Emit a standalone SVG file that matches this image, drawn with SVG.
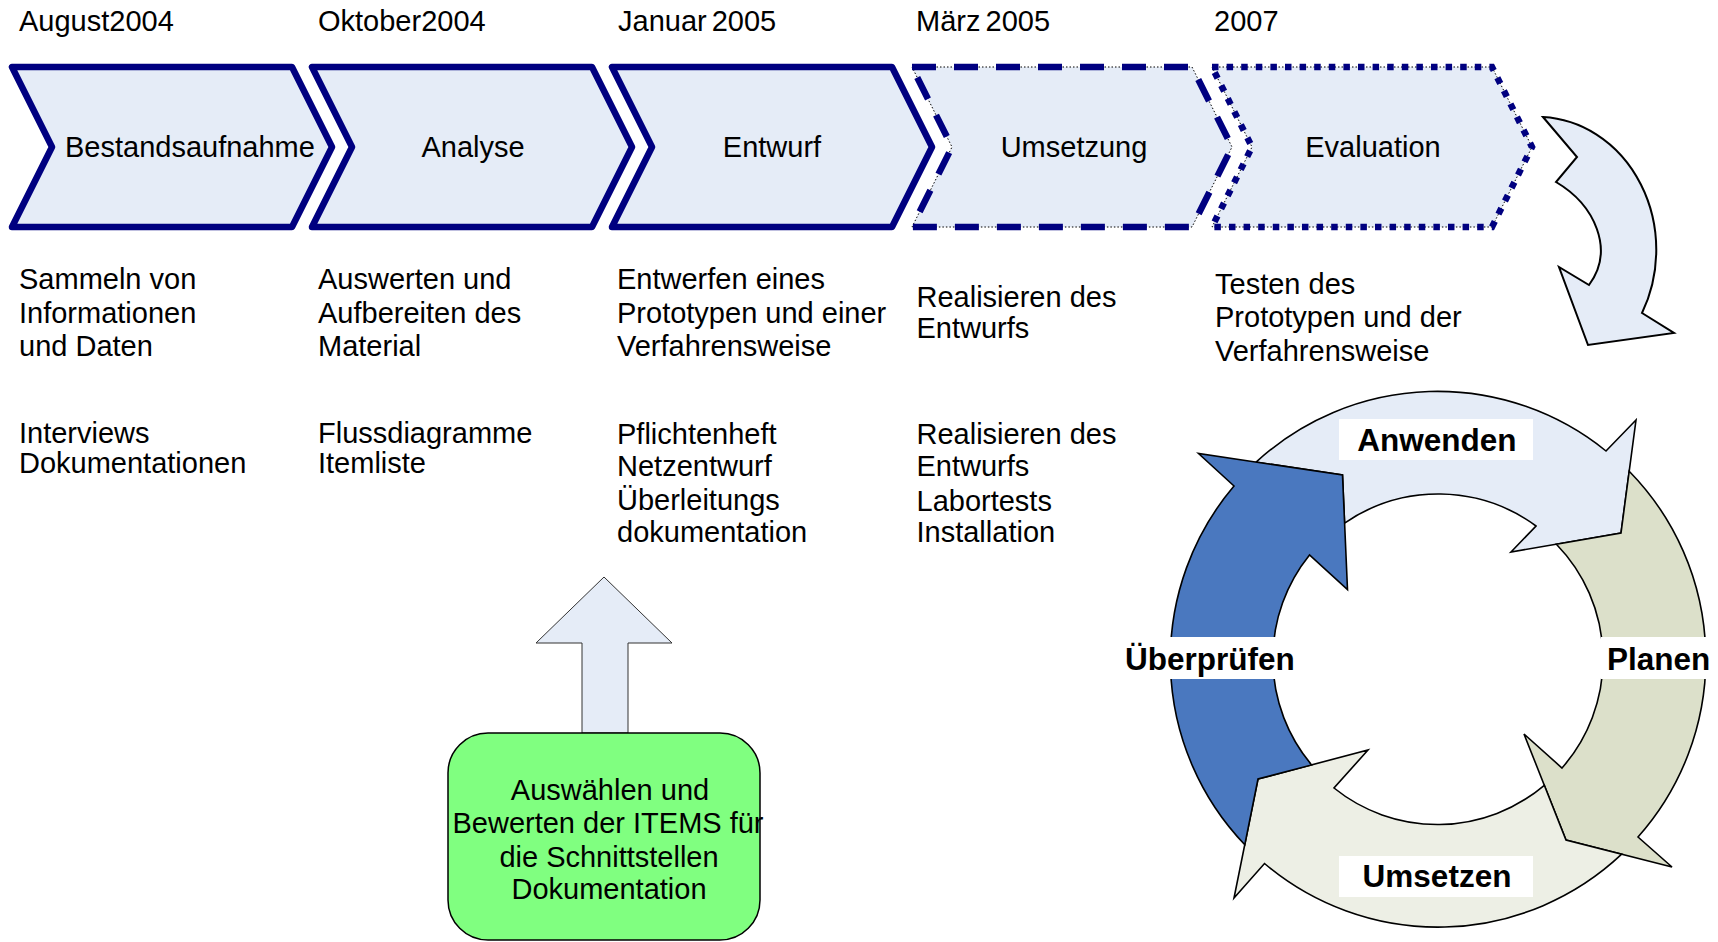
<svg xmlns="http://www.w3.org/2000/svg" width="1718" height="942" viewBox="0 0 1718 942">
  <style>
    text { font-family: "Liberation Sans", Arial, sans-serif; fill: #000; }
    .t { font-size: 29px; }
    .b { font-size: 31.5px; font-weight: bold; }
    .mid { text-anchor: middle; }
    .fill { fill: #E5ECF7; stroke: none; }
    .solid { fill: none; stroke: #000080; stroke-width: 6.5; stroke-linejoin: round; }
    .dash { fill: none; stroke: #000080; stroke-width: 6.5; stroke-dasharray: 24 18; }
    .dots { fill: none; stroke: #000080; stroke-width: 6.5; stroke-dasharray: 6.5 8.1; }
    .hair { fill: none; stroke: #000; stroke-width: 1; stroke-dasharray: 1.5 2; }
    .ring { stroke: #000; stroke-width: 1.6; stroke-linejoin: miter; }
    .tag { fill: #fff; stroke: none; }
  </style>
  <defs>
    <!-- one process step: 320 wide, 160 high, 40 deep notch and point -->
    <path id="chev" d="M0,0 H280 L320,80 L280,160 H0 L40,80 Z"/>
  </defs>

  <rect width="1718" height="942" fill="#fff"/>

  <!-- dates above the steps -->
  <g id="dates" class="t">
    <text class="t" x="19" y="31">August2004</text>
    <text class="t" x="318" y="31">Oktober2004</text>
    <text class="t" x="618" y="31" word-spacing="-3">Januar 2005</text>
    <text class="t" x="916" y="31" word-spacing="-3">März 2005</text>
    <text class="t" x="1214" y="31">2007</text>
  </g>

  <!-- process steps -->
  <g id="step-bestandsaufnahme" transform="translate(12,67)">
    <use href="#chev" class="fill"/>
    <use href="#chev" class="solid"/>
  </g>
  <text class="t" x="65" y="157">Bestandsaufnahme</text>

  <g id="step-analyse" transform="translate(312,67)">
    <use href="#chev" class="fill"/>
    <use href="#chev" class="solid"/>
  </g>
  <text class="t mid" x="473" y="157">Analyse</text>

  <g id="step-entwurf" transform="translate(612,67)">
    <use href="#chev" class="fill"/>
    <use href="#chev" class="solid"/>
  </g>
  <text class="t mid" x="772" y="157">Entwurf</text>

  <g id="step-umsetzung" transform="translate(912,67)">
    <use href="#chev" class="fill"/>
    <use href="#chev" class="hair"/>
    <use href="#chev" class="dash"/>
  </g>
  <text class="t mid" x="1074" y="157">Umsetzung</text>

  <g id="step-evaluation" transform="translate(1212,67)">
    <use href="#chev" class="fill"/>
    <use href="#chev" class="hair"/>
    <use href="#chev" class="dots"/>
  </g>
  <text class="t mid" x="1373" y="157">Evaluation</text>

  <!-- step descriptions -->
  <g id="desc-1">
    <text class="t" x="19" y="289">Sammeln von</text>
    <text class="t" x="19" y="322.5">Informationen</text>
    <text class="t" x="19" y="356">und Daten</text>
    <text class="t" x="19" y="443">Interviews</text>
    <text class="t" x="19" y="473">Dokumentationen</text>
  </g>
  <g id="desc-2">
    <text class="t" x="318" y="289">Auswerten und</text>
    <text class="t" x="318" y="322.5">Aufbereiten des</text>
    <text class="t" x="318" y="356">Material</text>
    <text class="t" x="318" y="443">Flussdiagramme</text>
    <text class="t" x="318" y="473">Itemliste</text>
  </g>
  <g id="desc-3">
    <text class="t" x="617" y="289">Entwerfen eines</text>
    <text class="t" x="617" y="322.5">Prototypen und einer</text>
    <text class="t" x="617" y="356">Verfahrensweise</text>
    <text class="t" x="617" y="444">Pflichtenheft</text>
    <text class="t" x="617" y="476">Netzentwurf</text>
    <text class="t" x="617" y="510">Überleitungs</text>
    <text class="t" x="617" y="542">dokumentation</text>
  </g>
  <g id="desc-4">
    <text class="t" x="916.5" y="306.5">Realisieren des</text>
    <text class="t" x="916.5" y="337.5">Entwurfs</text>
    <text class="t" x="916.5" y="444">Realisieren des</text>
    <text class="t" x="916.5" y="476">Entwurfs</text>
    <text class="t" x="916.5" y="510.5">Labortests</text>
    <text class="t" x="916.5" y="541.5">Installation</text>
  </g>
  <g id="desc-5">
    <text class="t" x="1215" y="294">Testen des</text>
    <text class="t" x="1215" y="326.5">Prototypen und der</text>
    <text class="t" x="1215" y="360.5">Verfahrensweise</text>
  </g>

  <!-- connectors -->
  <g id="connectors">
    <path id="arrow-loop" d="M1543,117 L1577,157 L1556,182 C1595,205 1615,250 1589,285 L1559,267 L1588,345 L1674,333 L1642,313 A119,133 0 0 0 1543,117 Z" fill="#E5ECF7" stroke="#000" stroke-width="2" stroke-linejoin="miter"/>
    <path id="arrow-up" d="M604,577 L672,643 L628,643 L628,733 L582,733 L582,643 L536,643 Z" fill="#E5ECF7" stroke="#333" stroke-width="1"/>
  </g>

  <!-- selection box -->
  <g id="node-items">
    <rect x="448" y="733" width="312" height="207" rx="40" ry="40" fill="#80FF80" stroke="#000" stroke-width="1.5"/>
    <text class="t mid" x="610" y="800">Auswählen und</text>
    <text class="t mid" x="608" y="833">Bewerten der ITEMS für</text>
    <text class="t mid" x="609" y="866.5">die Schnittstellen</text>
    <text class="t mid" x="609" y="898.5">Dokumentation</text>
  </g>

  <!-- improvement cycle: ring centred at 1438,659, radii 268 / 165 -->
  <g id="cycle">
    <path id="cycle-anwenden" class="ring" fill="#E5ECF7" d="M1256.1,462.1 A268,268 0 0 1 1606,451 L1636,420 L1621,533 L1511,552 L1536,526 A165,165 0 0 0 1344.6,523.1 L1342.5,475 Z"/>
    <path id="cycle-planen" class="ring" fill="#DCE0CA" d="M1629.2,471.2 A268,268 0 0 1 1638,837 L1672,867 L1566,840 L1524,734 L1562,768 A165,165 0 0 0 1556.4,544.2 L1621,533 Z"/>
    <path id="cycle-umsetzen" class="ring" fill="#EDEFE5" d="M1621.7,854.2 A268,268 0 0 1 1264.5,863.5 L1234,898 L1258,779 L1368,750 L1334,788 A165,165 0 0 0 1544.3,785.3 L1566,840 Z"/>
    <path id="cycle-ueberpruefen" class="ring" fill="#4A78BF" d="M1244.8,844.7 A268,268 0 0 1 1234,486 L1198.5,453.5 L1342.5,475 L1347.5,589.5 L1309.5,555 A165,165 0 0 0 1311.6,764.9 L1258,779 Z"/>

    <rect class="tag" x="1339" y="419" width="194" height="41"/>
    <rect class="tag" x="1339" y="856" width="194" height="41"/>
    <rect class="tag" x="1120" y="637" width="180" height="42"/>
    <rect class="tag" x="1601" y="637" width="117" height="42"/>

    <text class="b mid" x="1437" y="450.5">Anwenden</text>
    <text class="b mid" x="1437" y="887">Umsetzen</text>
    <text class="b" x="1125" y="669.5">Überprüfen</text>
    <text class="b" x="1607" y="669.5">Planen</text>
  </g>
</svg>
